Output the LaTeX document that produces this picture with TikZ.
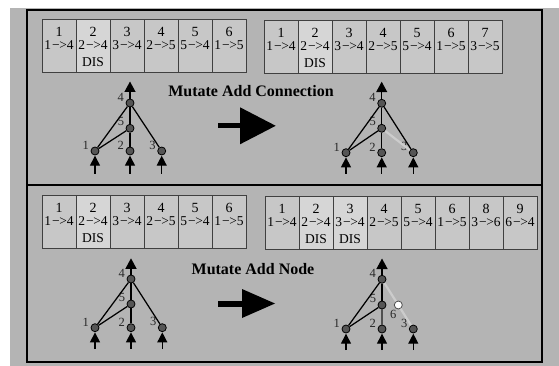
\documentclass[tikz,border=0pt]{standalone}
\usepackage{fontspec}
\setmainfont{Liberation Serif}
\usetikzlibrary{arrows.meta,calc}

\definecolor{panelbg}{RGB}{180,180,180}
\definecolor{cellfill}{RGB}{199,199,199}
\definecolor{disfill}{RGB}{214,214,214}
\definecolor{neurofill}{RGB}{85,85,85}
\definecolor{lblgray}{RGB}{40,40,40}
\definecolor{newlink}{RGB}{204,204,204}
\definecolor{weaklink}{RGB}{80,80,80}

% connection text "a->b"
\newcommand{\cn}[2]{#1\kern1.2pt−\kern-0.5pt>#2}

% one gene of a genome: name, left x, top y, innovation number, connection, status, fill
\newcommand{\genecell}[7]{%
  \node[genebox, fill=#7] (#1) at (#2,#3) {};
  \node[genenum] at ($(#1.north)+(0,17.5)$) {#4};
  \node[geneconn] at ($(#1.north)+(0,30.5)$) {#5};
  \node[geneconn] at ($(#1.north)+(0,47.5)$) {#6};
}

\begin{document}
\begin{tikzpicture}[x=1pt,y=-1pt,
  genebox/.style={draw=black!75, line width=0.8pt, anchor=north west,
    minimum width=34pt, minimum height=53pt, inner sep=0pt, outer sep=0pt},
  genenum/.style={anchor=base, inner sep=0pt, font=\fontsize{14}{14}\selectfont},
  geneconn/.style={anchor=base, inner sep=0pt, font=\fontsize{13.5}{13.5}\selectfont},
  title/.style={anchor=base, inner sep=0pt, font=\fontsize{16}{16}\selectfont\bfseries},
  neuro/.style={circle, draw=black, fill=neurofill, line width=0.8pt,
    minimum size=8pt, inner sep=0pt},
  freshneuro/.style={neuro, fill=white, draw=black!70},
  lbl/.style={text=lblgray, inner sep=0.5pt, font=\fontsize{12.5}{12.5}\selectfont},
  link/.style={draw=black, line width=1.25pt},
  addedlink/.style={draw=newlink, line width=2.2pt},
  outarrow/.style={line width=1.3pt, -{Triangle[length=10.5pt,width=11pt]}},
  inarrow/.style={line width=1.3pt, -{Triangle[length=10pt,width=10pt]}, shorten >=0.3pt},
]
\useasboundingbox (0,0) rectangle (559,366);
\fill[white] (0,0) rectangle (559,366);
\fill[panelbg] (10,8) rectangle (559,366);

% frame with two panels
\draw[line width=2.2pt] (27,10) rectangle (542,362);
\draw[line width=2.2pt] (27,185) -- (542,185);

% ---------- top panel: genomes ----------
\genecell{ta1}{42}{19}{1}{\cn14}{}{cellfill}
\genecell{ta2}{76}{19}{2}{\cn24}{DIS}{disfill}
\genecell{ta3}{110}{19}{3}{\cn34}{}{cellfill}
\genecell{ta4}{144}{19}{4}{\cn25}{}{cellfill}
\genecell{ta5}{178}{19}{5}{\cn54}{}{cellfill}
\genecell{ta6}{212}{19}{6}{\cn15}{}{cellfill}

\genecell{tb1}{264}{20}{1}{\cn14}{}{cellfill}
\genecell{tb2}{298}{20}{2}{\cn24}{DIS}{disfill}
\genecell{tb3}{332}{20}{3}{\cn34}{}{cellfill}
\genecell{tb4}{366}{20}{4}{\cn25}{}{cellfill}
\genecell{tb5}{400}{20}{5}{\cn54}{}{cellfill}
\genecell{tb6}{434}{20}{6}{\cn15}{}{cellfill}
\genecell{tb7}{468}{20}{7}{\cn35}{}{cellfill}

\node[title] (ttl1) at (251,96.5) {Mutate Add Connection};

% big arrow
\fill (218,122.7) rectangle (241,128.5);
\fill (240,107.3) -- (275.7,125.8) -- (240,144.3) -- cycle;

% ---------- top panel: network before ----------
\node[neuro, label={[lbl,label distance=1pt]170:4}] (a4) at (130,103) {};
\node[neuro, label={[lbl,label distance=1pt]160:5}] (a5) at (130,128.3) {};
\node[neuro, label={[lbl,label distance=1pt]170:1}] (a1) at (95,151) {};
\node[neuro, label={[lbl,label distance=1pt]170:2}] (a2) at (130,151) {};
\node[neuro, label={[lbl,label distance=1pt]170:3}] (a3) at (161.7,151) {};
\coordinate (a4o) at (130,81.5);
\coordinate (a1i) at (95,174);
\coordinate (a2i) at (130,174);
\coordinate (a3i) at (161.7,174);
\draw[link] (a1) -- (a4);
\draw[link] (a1) -- (a5);
\draw[link] (a2) -- (a5);
\draw[link] (a5) -- (a4);
\draw[link] (a3) -- (a4);
\draw[outarrow] (a4) -- (a4o);
\draw[inarrow] (a1i) -- (a1);
\draw[inarrow] (a2i) -- (a2);
\draw[inarrow] (a3i) -- (a3);

% ---------- top panel: network after ----------
\node[neuro, label={[lbl,label distance=1pt]170:4}] (b4) at (381.7,103.3) {};
\node[neuro, label={[lbl,label distance=1pt]160:5}] (b5) at (381.7,128.3) {};
\node[neuro, label={[lbl,label distance=1pt]170:1}] (b1) at (346,152.7) {};
\node[neuro, label={[lbl,label distance=1pt]170:2}] (b2) at (381.7,152.7) {};
\node[neuro, label={[lbl,label distance=1pt]170:3}] (b3) at (413.3,152.7) {};
\coordinate (b4o) at (381.7,81.7);
\coordinate (b1i) at (346,174);
\coordinate (b2i) at (381.7,174);
\coordinate (b3i) at (413.3,174);
\draw[addedlink] (b3) -- (b5);
\draw[link] (b1) -- (b4);
\draw[link] (b1) -- (b5);
\draw[link] (b2) -- (b5);
\draw[link] (b5) -- (b4);
\draw[link] (b3) -- (b4);
\draw[outarrow] (b4) -- (b4o);
\draw[inarrow] (b1i) -- (b1);
\draw[inarrow] (b2i) -- (b2);
\draw[inarrow] (b3i) -- (b3);

% ---------- bottom panel: genomes ----------
\genecell{ba1}{42}{195}{1}{\cn14}{}{cellfill}
\genecell{ba2}{76}{195}{2}{\cn24}{DIS}{disfill}
\genecell{ba3}{110}{195}{3}{\cn34}{}{cellfill}
\genecell{ba4}{144}{195}{4}{\cn25}{}{cellfill}
\genecell{ba5}{178}{195}{5}{\cn54}{}{cellfill}
\genecell{ba6}{212}{195}{6}{\cn15}{}{cellfill}

\genecell{bb1}{265}{196}{1}{\cn14}{}{cellfill}
\genecell{bb2}{299}{196}{2}{\cn24}{DIS}{disfill}
\genecell{bb3}{333}{196}{3}{\cn34}{DIS}{disfill}
\genecell{bb4}{367}{196}{4}{\cn25}{}{cellfill}
\genecell{bb5}{401}{196}{5}{\cn54}{}{cellfill}
\genecell{bb6}{435}{196}{6}{\cn15}{}{cellfill}
\genecell{bb8}{469}{196}{8}{\cn36}{}{cellfill}
\genecell{bb9}{503}{196}{9}{\cn64}{}{cellfill}

\node[title] (ttl2) at (253,274) {Mutate Add Node};

% big arrow
\fill (218,300.5) rectangle (243,306.5);
\fill (242,289) -- (275,303.5) -- (242,318) -- cycle;

% ---------- bottom panel: network before ----------
\node[neuro, label={[lbl,label distance=1pt]170:4}] (c4) at (131,279) {};
\node[neuro, label={[lbl,label distance=1pt]160:5}] (c5) at (131,304) {};
\node[neuro, label={[lbl,label distance=1pt]170:1}] (c1) at (95,327.7) {};
\node[neuro, label={[lbl,label distance=1pt]170:2}] (c2) at (131,327.7) {};
\node[neuro, label={[lbl,label distance=1pt]170:3}] (c3) at (162.3,327.7) {};
\coordinate (c4o) at (131,258.3);
\coordinate (c1i) at (95,349);
\coordinate (c2i) at (131,349);
\coordinate (c3i) at (162.3,349);
\draw[link] (c1) -- (c4);
\draw[link] (c1) -- (c5);
\draw[link] (c2) -- (c5);
\draw[link] (c5) -- (c4);
\draw[link] (c3) -- (c4);
\draw[outarrow] (c4) -- (c4o);
\draw[inarrow] (c1i) -- (c1);
\draw[inarrow] (c2i) -- (c2);
\draw[inarrow] (c3i) -- (c3);

% ---------- bottom panel: network after ----------
\node[neuro, label={[lbl,label distance=1pt]170:4}] (d4) at (382,279.3) {};
\node[neuro, label={[lbl,label distance=1pt]160:5}] (d5) at (382,305) {};
\node[neuro, label={[lbl,label distance=1pt]170:1}] (d1) at (346,329) {};
\node[neuro, label={[lbl,label distance=1pt]170:2}] (d2) at (382,329) {};
\node[neuro, label={[lbl,label distance=1pt]170:3}] (d3) at (413.3,329) {};
\node[freshneuro, label={[lbl,label distance=0pt]255:6}] (d6) at (398.3,305) {};
\coordinate (d4o) at (382,258.5);
\coordinate (d1i) at (346,350);
\coordinate (d2i) at (382,350);
\coordinate (d3i) at (413.3,350);
\draw[addedlink] (d3) -- (d6);
\draw[addedlink] (d6) -- (d4);
\draw[link] (d1) -- (d4);
\draw[link] (d1) -- (d5);
\draw[link, draw=weaklink] (d2) -- (d5);
\draw[link] (d5) -- (d4);
\draw[outarrow] (d4) -- (d4o);
\draw[inarrow] (d1i) -- (d1);
\draw[inarrow] (d2i) -- (d2);
\draw[inarrow] (d3i) -- (d3);
\end{tikzpicture}
\end{document}
